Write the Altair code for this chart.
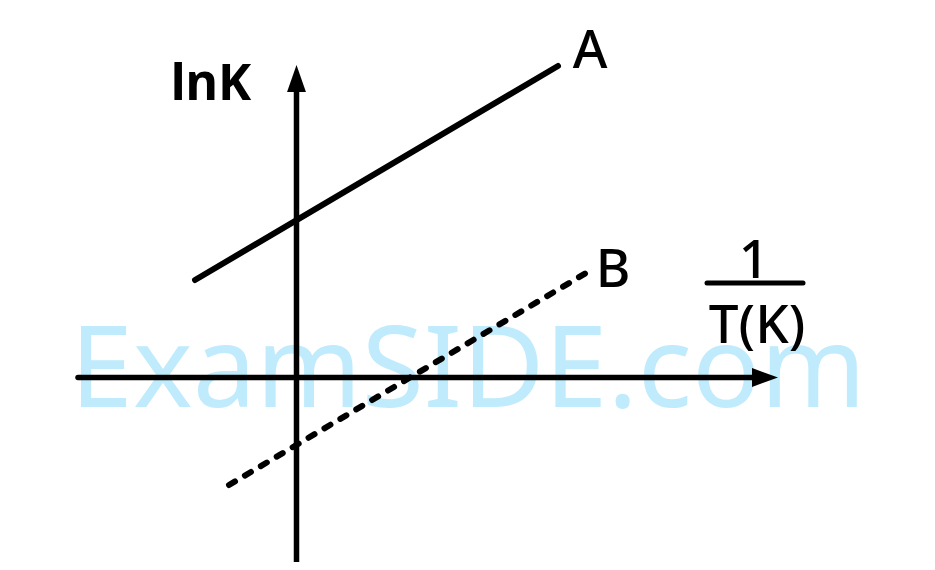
import altair as alt
import pandas as pd

# all positions are offsets from the point where the two axes cross
# (1 unit ~ 1 px, y upwards)
x_axis_from = [-218.5]
x_axis_to = [468.5]
y_axis_from = [-189.5]
y_axis_to = [299.0]

line_a_x = [-101.5, 261.5]
line_a_y = [97.5, 311.5]
line_b_x = [-67.5, 289.5]
line_b_y = [-107.5, 104.5]

labels = ["A", "B", "1", "T(K)"]
label_x = [293.5, 316.5, 457.5, 460.5]
label_y = [309.5, 90.5, 99.5, 34.5]

y_title = ["lnK"]
y_title_x = [-85.5]
y_title_y = [277.5]

frac_bar_x = [410.5, 506.5]
frac_bar_y = [94.5]

watermark = ["ExamSIDE.com"]
watermark_x = [171.5]
watermark_y = [-29.5]

xs = alt.Scale(domain=[-288.5, 630.5], nice=False, zero=False)
ys = alt.Scale(domain=[-184.5, 369.5], nice=False, zero=False)

FONT = "Noto Sans"

wm = alt.Chart(pd.DataFrame({"t": watermark, "x": watermark_x, "y": watermark_y})).mark_text(
    font=FONT, fontSize=113, color="#BFEBFC", align="center", baseline="alphabetic"
).encode(
    x=alt.X("x:Q", scale=xs, axis=None),
    y=alt.Y("y:Q", scale=ys, axis=None),
    text="t:N",
)

axes_df = pd.DataFrame({
    "x": [x_axis_from[0], 0], "x2": [x_axis_to[0], 0],
    "y": [0, y_axis_from[0]], "y2": [0, y_axis_to[0]],
})
axes = alt.Chart(axes_df).mark_rule(color="black", strokeWidth=5.5, strokeCap="round").encode(
    x=alt.X("x:Q", scale=xs, axis=None), x2="x2:Q",
    y=alt.Y("y:Q", scale=ys, axis=None), y2="y2:Q",
)

heads_df = pd.DataFrame({
    "x": [0, x_axis_to[0]], "y": [y_axis_to[0], 0],
    "dir": ["up", "right"],
})
head_up = alt.Chart(heads_df[heads_df["dir"] == "up"]).mark_point(
    shape="M0,-1L0.7,1L-0.7,1Z", size=729, filled=True, color="black", opacity=1, strokeWidth=0
).encode(x=alt.X("x:Q", scale=xs, axis=None), y=alt.Y("y:Q", scale=ys, axis=None))
head_right = alt.Chart(heads_df[heads_df["dir"] == "right"]).mark_point(
    shape="M1,0L-1,-0.73L-1,0.73Z", size=676, filled=True, color="black", opacity=1, strokeWidth=0
).encode(x=alt.X("x:Q", scale=xs, axis=None), y=alt.Y("y:Q", scale=ys, axis=None))

lines_df = pd.DataFrame({
    "x": [line_a_x[0], line_b_x[0]], "x2": [line_a_x[1], line_b_x[1]],
    "y": [line_a_y[0], line_b_y[0]], "y2": [line_a_y[1], line_b_y[1]],
    "name": ["A", "B"],
})
line_a = alt.Chart(lines_df[lines_df["name"] == "A"]).mark_rule(
    color="black", strokeWidth=6, strokeCap="round"
).encode(
    x=alt.X("x:Q", scale=xs, axis=None), x2="x2:Q",
    y=alt.Y("y:Q", scale=ys, axis=None), y2="y2:Q",
)
line_b = alt.Chart(lines_df[lines_df["name"] == "B"]).mark_rule(
    color="black", strokeWidth=6, strokeCap="round", strokeDash=[7, 11.5]
).encode(
    x=alt.X("x:Q", scale=xs, axis=None), x2="x2:Q",
    y=alt.Y("y:Q", scale=ys, axis=None), y2="y2:Q",
)

bar = alt.Chart(pd.DataFrame({"x": [frac_bar_x[0]], "x2": [frac_bar_x[1]], "y": frac_bar_y})).mark_rule(
    color="black", strokeWidth=5, strokeCap="round"
).encode(
    x=alt.X("x:Q", scale=xs, axis=None), x2="x2:Q",
    y=alt.Y("y:Q", scale=ys, axis=None),
)

text = alt.Chart(pd.DataFrame({"t": labels, "x": label_x, "y": label_y})).mark_text(
    font=FONT, fontSize=53, fontWeight=500, color="black", align="center", baseline="alphabetic"
).encode(
    x=alt.X("x:Q", scale=xs, axis=None),
    y=alt.Y("y:Q", scale=ys, axis=None),
    text="t:N",
)

ytitle = alt.Chart(pd.DataFrame({"t": y_title, "x": y_title_x, "y": y_title_y})).mark_text(
    font=FONT, fontSize=50, fontWeight="bold", color="black", align="center", baseline="alphabetic"
).encode(
    x=alt.X("x:Q", scale=xs, axis=None),
    y=alt.Y("y:Q", scale=ys, axis=None),
    text="t:N",
)

chart = alt.layer(wm, axes, head_up, head_right, line_a, line_b, bar, text, ytitle).properties(
    width=919, height=554, padding=0, autosize=alt.AutoSizeParams(type="none"),
    background="white",
).configure_view(stroke=None)

chart.save("out.html", embed_options={"renderer": "svg", "actions": False})
